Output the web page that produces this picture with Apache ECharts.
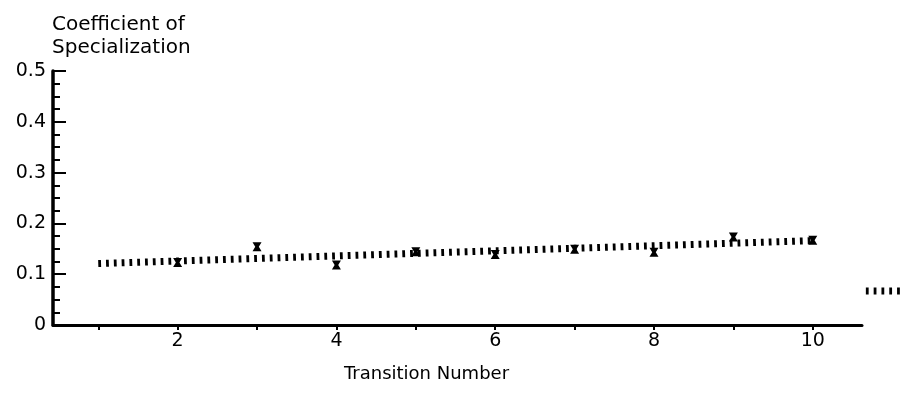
<!DOCTYPE html>
<html>
<head>
<meta charset="utf-8">
<script src="https://cdn.jsdelivr.net/npm/echarts@6/dist/echarts.min.js"></script>
<style>
  html, body { margin: 0; padding: 0; background: #fff; }
  #main { width: 904px; height: 393px; }
</style>
</head>
<body>
<div id="main"></div>
<script>
// 数据 -- 读自原图
var transitions = [2, 3, 4, 5, 6, 7, 8, 9, 10];
var specialization = [0.123, 0.154, 0.118, 0.144, 0.139, 0.149, 0.143, 0.173, 0.167];
var trendX = [1, 10];
var trendY = [0.121, 0.166];
var strayX = [10.66, 11.1];
var strayY = [0.067, 0.067];
var xTicks = [1, 2, 3, 4, 5, 6, 7, 8, 9, 10];
var xLabels = [2, 4, 6, 8, 10];

var font = 'DejaVu Sans';

function pairs(xs, ys) {
    var out = [];
    for (var i = 0; i < xs.length; i++) out.push([xs[i], ys[i]]);
    return out;
}

var dashStyle = { color: '#000', width: 7, type: [2.8, 5], cap: 'butt' };

var myChart = echarts.init(document.getElementById('main'));
var option = {
    backgroundColor: '#fff',
    animation: false,
    grid: [
        { left: 53, right: 42, top: 71, bottom: 68 },
        // 右侧残留的虚线段用，比例尺与主网格一致
        { left: 53, right: 0, top: 71, bottom: 68 }
    ],
    xAxis: [{
        type: 'value',
        gridIndex: 0,
        min: 0.43,
        max: 10.62,
        name: 'Transition Number',
        nameLocation: 'middle',
        nameGap: 40,
        nameTextStyle: { color: '#000', fontFamily: font, fontSize: 18, padding: [0, 62, 0, 0] },
        axisLine: { show: true, onZero: false, lineStyle: { color: '#000', width: 3 } },
        axisTick: { show: true, length: 5, customValues: xTicks, lineStyle: { color: '#000', width: 2 } },
        axisLabel: { customValues: xLabels, color: '#000', fontFamily: font, fontSize: 19, margin: 7 },
        splitLine: { show: false }
    }, {
        type: 'value',
        gridIndex: 1,
        min: 0.43,
        max: 11.14,
        show: false
    }],
    yAxis: [{
        type: 'value',
        gridIndex: 0,
        min: 0,
        max: 0.5,
        interval: 0.1,
        name: 'Coefficient of\nSpecialization',
        nameLocation: 'end',
        nameGap: 12,
        nameTextStyle: {
            color: '#000', fontFamily: font, fontSize: 20, lineHeight: 23,
            align: 'left', verticalAlign: 'bottom', padding: [0, 0, 0, -1]
        },
        axisLine: { show: true, lineStyle: { color: '#000', width: 3.5 } },
        axisTick: { show: true, inside: true, length: 13, lineStyle: { color: '#000', width: 2 } },
        minorTick: { show: true, splitNumber: 4, length: 7, lineStyle: { color: '#000', width: 2 } },
        axisLabel: { color: '#000', fontFamily: font, fontSize: 19, margin: 7 },
        splitLine: { show: false }
    }, {
        type: 'value',
        gridIndex: 1,
        min: 0,
        max: 0.5,
        show: false
    }],
    series: [
        {
            type: 'line',
            data: pairs(trendX, trendY),
            symbol: 'none',
            lineStyle: dashStyle,
            z: 2
        },
        {
            type: 'line',
            xAxisIndex: 1,
            yAxisIndex: 1,
            data: pairs(strayX, strayY),
            symbol: 'none',
            lineStyle: dashStyle,
            z: 2
        },
        {
            type: 'scatter',
            data: pairs(transitions, specialization),
            symbol: 'path://M0,0 L10,0 L7,5 L10,10 L0,10 L3,5 Z',
            symbolSize: [9, 9],
            itemStyle: { color: '#000', opacity: 1 },
            z: 3
        }
    ]
};
myChart.setOption(option);
</script>
</body>
</html>
